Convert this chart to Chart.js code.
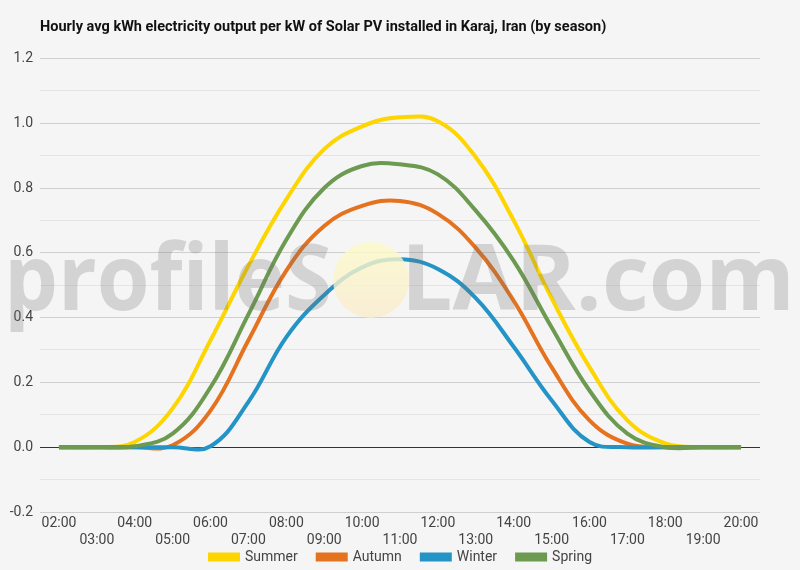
<!DOCTYPE html>
<html>
<head>
<meta charset="utf-8">
<script src="https://cdn.jsdelivr.net/npm/chart.js@4"></script>
<style>
  html, body { margin: 0; padding: 0; background: #f5f5f5; }
  canvas { display: block; }
</style>
</head>
<body>
<canvas id="solarChart" width="800" height="570"></canvas>
<script>
// Hour labels along the x axis
const hours = ['02:00', '03:00', '04:00', '05:00', '06:00', '07:00', '08:00', '09:00', '10:00',
  '11:00', '12:00', '13:00', '14:00', '15:00', '16:00', '17:00', '18:00', '19:00', '20:00'];

// Hourly avg kWh per kW installed
const summer = [0, 0, 0.016, 0.12, 0.33, 0.56, 0.765, 0.92, 0.99, 1.018, 1.006, 0.895, 0.70, 0.46, 0.247, 0.083, 0.012, 0, 0];
const autumn = [0, 0, 0, 0.006, 0.113, 0.33, 0.545, 0.683, 0.745, 0.76, 0.72, 0.615, 0.452, 0.247, 0.083, 0.011, 0, 0, 0];
const winter = [0, 0, 0, 0, 0.003, 0.14, 0.34, 0.47, 0.555, 0.58, 0.55, 0.46, 0.31, 0.145, 0.016, 0, 0, 0, 0];
const spring = [0, 0, 0.003, 0.042, 0.185, 0.41, 0.64, 0.80, 0.868, 0.873, 0.842, 0.73, 0.575, 0.37, 0.175, 0.042, 0, 0, 0];

const seriesNames = ['Summer', 'Autumn', 'Winter', 'Spring'];
const seriesColors = ['#fdd500', '#e5721f', '#2494c6', '#6c9a50'];

Chart.defaults.font.family = 'Roboto, "Noto Sans", sans-serif';
Chart.defaults.color = '#444';

// Paint the light grey page background on the canvas
const bgPlugin = {
  id: 'bg',
  beforeDraw(chart) {
    const ctx = chart.ctx;
    ctx.save();
    ctx.fillStyle = '#f5f5f5';
    ctx.fillRect(0, 0, chart.width, chart.height);
    ctx.restore();
  }
};

// Pull the legend up under the second row of hour labels and centre it on the page
// (the bottom stays put, so the legend's clip box still reaches the bottom)
const legendShift = {
  id: 'legendShift',
  afterLayout(chart) {
    chart.legend.top -= 19;
    chart.legend.left += 21;
    chart.legend.right += 21;
  }
};

// profileSOLAR.com watermark laid over the lines
const watermarkPlugin = {
  id: 'watermark',
  afterDatasetsDraw(chart) {
    const ctx = chart.ctx;
    ctx.save();
    // sun in place of the "O"
    const grad = ctx.createLinearGradient(0, 242, 0, 318);
    grad.addColorStop(0, 'rgba(252, 250, 200, 0.8)');
    grad.addColorStop(1, 'rgba(250, 236, 205, 0.8)');
    ctx.fillStyle = grad;
    ctx.beginPath();
    ctx.arc(371, 280, 38, 0, Math.PI * 2);
    ctx.fill();

    ctx.fillStyle = 'rgba(110, 110, 110, 0.25)';
    ctx.font = '700 92px "Open Sans", sans-serif';
    ctx.textBaseline = 'alphabetic';
    ctx.textAlign = 'left';
    ctx.fillText('profileS', 4, 310, 328);
    ctx.fillText('LAR.com', 401, 310, 394);
    ctx.restore();
  }
};

const ctx = document.getElementById('solarChart').getContext('2d');
const solarChart = new Chart(ctx, {
  type: 'line',
  data: {
    labels: hours,
    datasets: [summer, autumn, winter, spring].map((values, i) => ({
      label: seriesNames[i],
      data: values,
      borderColor: seriesColors[i],
      backgroundColor: seriesColors[i],
      borderWidth: 4,
      pointRadius: 0,
      pointHoverRadius: 0,
      tension: 0.4,
      fill: false,
      order: 3 - i // Spring on top
    }))
  },
  options: {
    responsive: false,
    devicePixelRatio: 1,
    animation: false,
    layout: { padding: { left: 0, right: 40, top: 0, bottom: 0 } },
    plugins: {
      title: {
        display: true,
        text: 'Hourly avg kWh electricity output per kW of Solar PV installed in Karaj, Iran (by season)',
        align: 'start',
        fullSize: false,
        color: '#111',
        font: { size: 14.5, weight: 'bold' },
        padding: { top: 19, bottom: 22 }
      },
      legend: {
        position: 'bottom',
        maxHeight: 21,
        labels: {
          boxWidth: 28,
          boxHeight: 5,
          padding: 20,
          color: '#444',
          font: { size: 14 },
          sort: (a, b) => a.datasetIndex - b.datasetIndex
        }
      },
      tooltip: { enabled: false }
    },
    scales: {
      x: {
        offset: true,
        afterFit: (scale) => { scale.height = 37; },
        grid: { display: false, drawTicks: false },
        border: { display: false },
        ticks: {
          autoSkip: false,
          maxRotation: 0,
          padding: 3,
          font: { size: 14 },
          color: '#444',
          // even hours on the first row, odd hours on the second
          callback: function (value, index) {
            const label = this.getLabelForValue(value);
            return index % 2 === 0 ? label : ['', label];
          }
        }
      },
      y: {
        min: -0.2,
        max: 1.2,
        afterFit: (scale) => { scale.width = 40; },
        border: { display: false },
        grid: {
          drawTicks: false,
          lineWidth: 1,
          color: (c) => {
            const v = Math.round(c.tick.value * 10);
            if (v === 0) return '#333';
            return v % 2 === 0 ? '#cfcfcf' : '#e4e4e4';
          }
        },
        ticks: {
          stepSize: 0.1,
          padding: 7,
          font: { size: 14 },
          color: '#444',
          callback: (value) => {
            const v = Math.round(value * 10);
            return v % 2 === 0 ? (v / 10).toFixed(1) : '';
          }
        }
      }
    }
  },
  plugins: [bgPlugin, legendShift, watermarkPlugin]
});
</script>
</body>
</html>
